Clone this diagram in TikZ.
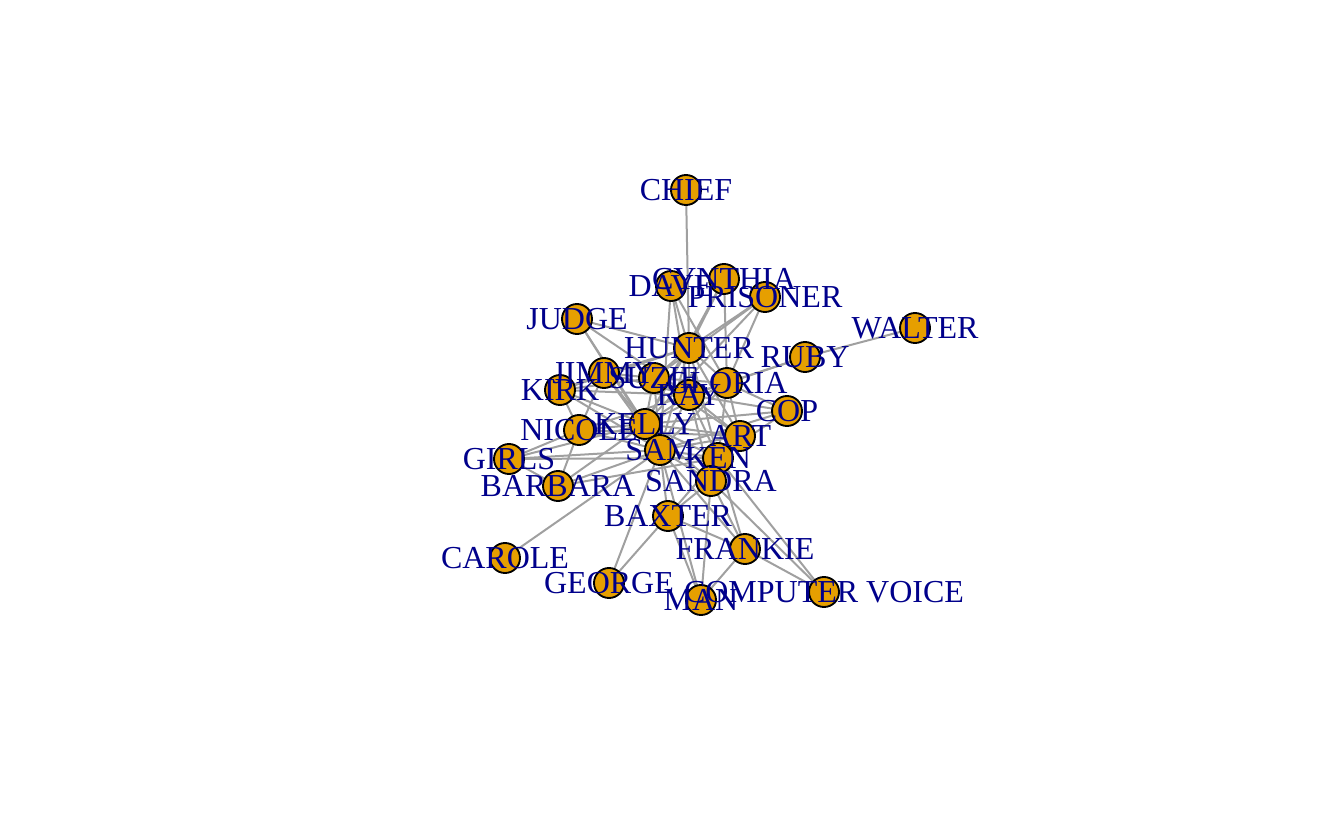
\documentclass[tikz,border=0pt]{standalone}
\usepackage{fontspec}
\setmainfont{Liberation Serif}
\definecolor{vfill}{HTML}{E69F00}
\definecolor{lcol}{HTML}{00008B}
\definecolor{ecol}{HTML}{A0A0A0}
\begin{document}
\begin{tikzpicture}[x=0.75pt,y=-0.75pt,
  vert/.style={circle,draw=black,fill=vfill,line width=1.4pt,minimum size=22.5pt,inner sep=0pt},
  lab/.style={text=lcol,font=\fontsize{24}{25}\selectfont,inner sep=0pt,text height=15.9pt,text depth=0pt,anchor=center},
  edge/.style={draw=ecol,line width=1.5pt}]
\useasboundingbox (0,0) rectangle (1344,830);
\foreach \n/\x/\y in {chief/686/190, cynthia/724/279, dave/671/286, prisoner/765/297,
  judge/577/319, walter/915/328, hunter/689/348, ruby/805/357, jimmy/604/373,
  suzie/654/378, gloria/727/383, kirk/560/390, ray/689/395, cop/787/411,
  kelly/645/424, nicole/579/430, art/740/436, sam/660/450, girls/509/459,
  ken/718/458, barbara/558/486, sandra/711/481, baxter/668/516, frankie/745/549,
  carole/505/558, george/609/583, cv/824/592, man/701/600}
  \coordinate (\n) at (\x,\y);
\begin{scope}
\foreach \a/\b in {chief/hunter,
 dave/hunter, dave/ray, dave/sam, dave/gloria,
 cynthia/hunter, cynthia/gloria, cynthia/kelly,
 prisoner/hunter, prisoner/suzie, prisoner/gloria, prisoner/kelly,
 judge/hunter, judge/ray, judge/kelly, judge/sam,
 walter/ruby, ruby/gloria, ruby/ray,
 hunter/suzie, hunter/ray, hunter/gloria, hunter/jimmy, hunter/kelly, hunter/sam, hunter/kirk, hunter/art, hunter/ken,
 jimmy/suzie, jimmy/kirk, jimmy/kelly, jimmy/sam, jimmy/ray, jimmy/nicole,
 suzie/ray, suzie/gloria, suzie/kelly, suzie/sam, suzie/kirk, suzie/art,
 gloria/ray, gloria/cop, gloria/art, gloria/ken, gloria/sam, gloria/kelly,
 kirk/ray, kirk/nicole, kirk/kelly, kirk/sam,
 ray/kelly, ray/sam, ray/art, ray/ken, ray/sandra, ray/cop, ray/nicole,
 cop/sam, cop/kelly, cop/ken,
 kelly/sam, kelly/nicole, kelly/art, kelly/ken, kelly/girls, kelly/barbara, kelly/sandra,
 nicole/sam, nicole/girls, nicole/barbara, nicole/art,
 art/sam, art/ken, art/sandra,
 sam/ken, sam/sandra, sam/girls, sam/barbara, sam/baxter, sam/carole, sam/george, sam/man, sam/frankie,
 girls/barbara, girls/ken, barbara/ken,
 ken/sandra, ken/baxter, ken/frankie, ken/cv,
 sandra/baxter, sandra/frankie, sandra/cv, sandra/man,
 baxter/george, baxter/frankie, baxter/man,
 frankie/man, frankie/cv}
  \draw[edge] (\a) -- (\b);
\end{scope}
\foreach \n in {chief, cynthia, dave, prisoner, judge, walter, hunter, ruby, jimmy,
  suzie, gloria, kirk, ray, cop, kelly, nicole, art, sam, girls, ken, barbara,
  sandra, baxter, frankie, carole, george, cv, man}
  \node[vert] (v\n) at (\n) {};
\foreach \n/\t in {chief/CHIEF, cynthia/CYNTHIA, dave/DAVE, prisoner/PRISONER,
  judge/JUDGE, walter/WALTER, hunter/HUNTER, ruby/RUBY, jimmy/JIMMY,
  suzie/SUZIE, gloria/GLORIA, kirk/KIRK, ray/RAY, cop/COP, kelly/KELLY,
  nicole/NICOLE, art/ART, sam/SAM, girls/GIRLS, ken/KEN, barbara/BARBARA,
  sandra/SANDRA, baxter/BAXTER, frankie/FRANKIE, carole/CAROLE, george/GEORGE,
  cv/COMPUTER VOICE, man/MAN}
  \node[lab] (l\n) at (\n) {\t};
\end{tikzpicture}
\end{document}
